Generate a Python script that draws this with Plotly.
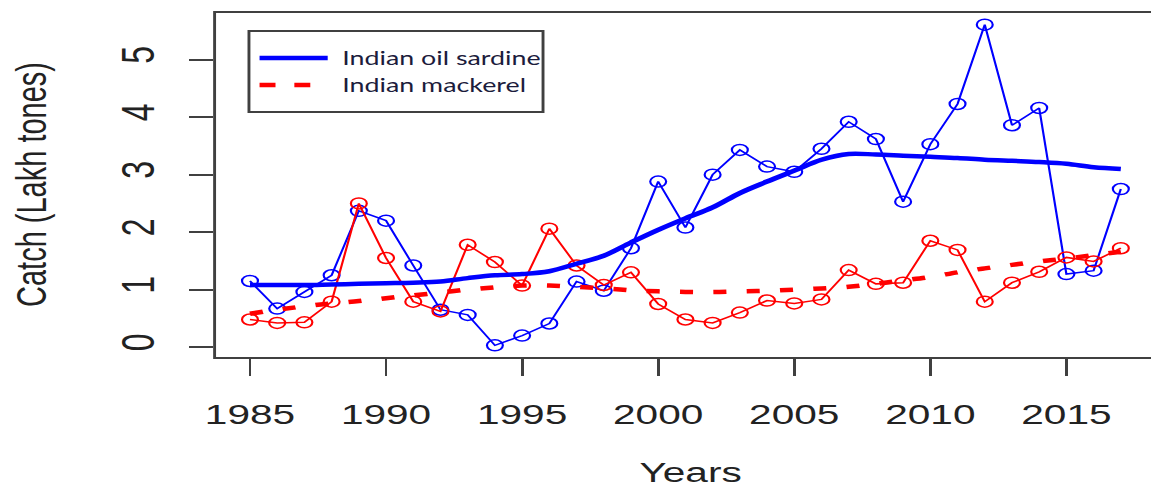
import plotly.graph_objects as go

# Annual landings (lakh tonnes)
years = [1985, 1986, 1987, 1988, 1989, 1990, 1991, 1992, 1993, 1994, 1995,
         1996, 1997, 1998, 1999, 2000, 2001, 2002, 2003, 2004, 2005, 2006,
         2007, 2008, 2009, 2010, 2011, 2012, 2013, 2014, 2015, 2016, 2017]

sardine = [1.15, 0.67, 0.96, 1.25, 2.37, 2.20, 1.42, 0.65, 0.56, 0.03, 0.20,
           0.41, 1.14, 0.98, 1.72, 2.88, 2.08, 3.00, 3.43, 3.14, 3.05, 3.45,
           3.92, 3.62, 2.53, 3.53, 4.23, 5.61, 3.86, 4.16, 1.27, 1.33, 2.75]

mackerel = [0.48, 0.42, 0.43, 0.79, 2.50, 1.55, 0.79, 0.62, 1.78, 1.48, 1.07,
            2.06, 1.42, 1.08, 1.30, 0.75, 0.48, 0.42, 0.60, 0.81, 0.76, 0.83,
            1.34, 1.10, 1.12, 1.85, 1.69, 0.79, 1.12, 1.31, 1.56, 1.49, 1.72]

# Smoothed trends
sardine_trend = [1.08, 1.08, 1.08, 1.09, 1.10, 1.11, 1.12, 1.14, 1.20, 1.25, 1.27,
                 1.32, 1.45, 1.59, 1.82, 2.04, 2.24, 2.43, 2.68, 2.88, 3.07, 3.26,
                 3.36, 3.35, 3.33, 3.31, 3.29, 3.26, 3.24, 3.22, 3.19, 3.13, 3.10]

mackerel_trend = [0.58, 0.65, 0.71, 0.76, 0.80, 0.85, 0.90, 0.95, 1.00, 1.04, 1.07,
                  1.07, 1.05, 1.02, 0.99, 0.97, 0.96, 0.96, 0.97, 0.98, 1.00, 1.02,
                  1.05, 1.10, 1.16, 1.22, 1.30, 1.37, 1.43, 1.49, 1.54, 1.60, 1.66]

x_ticks = [1985, 1990, 1995, 2000, 2005, 2010, 2015]
y_ticks = [0, 1, 2, 3, 4, 5]
series_names = ["Indian oil sardine", "Indian mackerel"]

BLUE = "#0000FF"
RED = "#FF0000"
AXIS = "#404040"
TEXT = "#222222"

# Figure is laid out narrow, then widened horizontally in the page
STRETCH = 1.45
W = 794
H = 489
ML, MR, MT, MB = 148, 0, 12, 131
PW = W - ML - MR
PH = H - MT - MB


def px(xp):
    return (xp - ML) / PW


def py(yp):
    return (H - MB - yp) / PH


fig = go.Figure()

fig.add_trace(go.Scatter(
    x=years, y=sardine, mode="lines+markers", name=series_names[0],
    line=dict(color=BLUE, width=1.5),
    marker=dict(symbol="circle-open", size=11, color=BLUE, line=dict(width=1.5)),
    showlegend=False))

fig.add_trace(go.Scatter(
    x=years, y=mackerel, mode="lines+markers", name=series_names[1],
    line=dict(color=RED, width=1.5),
    marker=dict(symbol="circle-open", size=11, color=RED, line=dict(width=1.5)),
    showlegend=False))

fig.add_trace(go.Scatter(
    x=years, y=sardine_trend, mode="lines", name=series_names[0] + " trend",
    line=dict(color=BLUE, width=4.5, shape="spline"), showlegend=False))

fig.add_trace(go.Scatter(
    x=years, y=mackerel_trend, mode="lines", name=series_names[1] + " trend",
    line=dict(color=RED, width=4.5, dash="9px,14px", shape="spline"),
    showlegend=False))

shapes = [
    # plot frame (right side runs off the page)
    dict(type="rect", xref="paper", yref="paper", x0=0, x1=1.03, y0=0, y1=1,
         line=dict(color=AXIS, width=2), layer="above"),
    # legend frame
    dict(type="rect", xref="paper", yref="paper",
         x0=px(171.7), x1=px(374.5), y0=py(112), y1=py(31),
         line=dict(color=AXIS, width=2), fillcolor="white", layer="above"),
    dict(type="line", xref="paper", yref="paper",
         x0=px(179), x1=px(226), y0=py(58), y1=py(58),
         line=dict(color=BLUE, width=4.5), layer="above"),
    dict(type="line", xref="paper", yref="paper",
         x0=px(179), x1=px(214), y0=py(85), y1=py(85),
         line=dict(color=RED, width=4.5, dash="11px,13px"), layer="above"),
]

legend_font = dict(family="Lato, Open Sans, sans-serif", size=18.5, color="#1c1c3c")
axis_title_font = dict(family="Liberation Sans, Arial, sans-serif", size=29, color=TEXT)

annotations = [
    dict(text=series_names[0], xref="paper", yref="paper", x=px(234), y=py(58),
         xanchor="left", yanchor="middle", showarrow=False, font=legend_font),
    dict(text=series_names[1], xref="paper", yref="paper", x=px(234), y=py(85),
         xanchor="left", yanchor="middle", showarrow=False, font=legend_font),
    dict(text="Years", xref="paper", yref="paper", x=px(476), y=py(472),
         xanchor="center", yanchor="middle", showarrow=False,
         font=dict(family="Liberation Sans, Arial, sans-serif", size=28, color=TEXT)),
    dict(text="Catch (Lakh tones)", xref="paper", yref="paper", x=px(22.0), y=0.5,
         xanchor="center", yanchor="middle", textangle=-90, showarrow=False,
         font=axis_title_font),
]

x_tick_font = dict(family="Liberation Sans, Arial, sans-serif", size=28, color=TEXT)
y_tick_font = dict(family="Liberation Sans, Arial, sans-serif", size=32, color=TEXT)

fig.update_layout(
    width=W, height=H,
    margin=dict(l=ML, r=MR, t=MT, b=MB, pad=0),
    paper_bgcolor="white", plot_bgcolor="white",
    shapes=shapes, annotations=annotations,
    showlegend=False,
    xaxis=dict(range=[1983.70, 2018.12], tickmode="array", tickvals=x_ticks,
               ticktext=[str(v) for v in x_ticks],
               ticks="outside", ticklen=17, tickwidth=2, tickcolor=AXIS,
               showgrid=False, zeroline=False, showline=False,
               tickfont=x_tick_font, ticklabelstandoff=14),
    yaxis=dict(range=[-0.19, 5.83], tickmode="array", tickvals=y_ticks,
               ticktext=[str(v) for v in y_ticks],
               ticks="outside", ticklen=17, tickwidth=2, tickcolor=AXIS,
               showgrid=False, zeroline=False, showline=False,
               tickfont=y_tick_font, tickangle=-90, ticklabelstandoff=11),
)

post = (
    "var gd=document.getElementById('{plot_id}');"
    "gd.style.transformOrigin='0 0';"
    "gd.style.transform='scaleX(%s)';"
    "document.body.style.margin='0';"
    "document.body.style.overflow='hidden';" % STRETCH
)

fig.write_html("out.html", post_script=post)
